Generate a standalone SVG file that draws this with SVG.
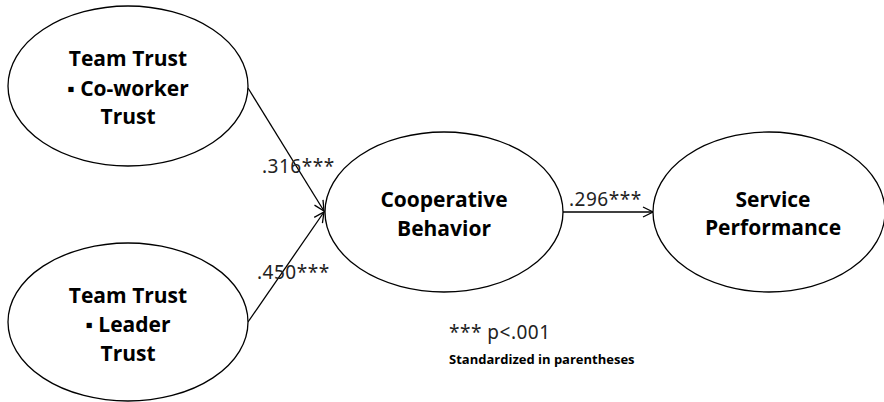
<svg xmlns="http://www.w3.org/2000/svg" width="884" height="402" viewBox="0 0 884 402">
<style>
.node{fill:#fff;stroke:#000;stroke-width:1.3}
.nt{font-family:"Open Sans","Noto Sans",sans-serif;font-weight:bold;font-size:21px;fill:#000;text-anchor:middle}
.lbl{font-family:"Noto Sans","Open Sans",sans-serif;font-size:19px;fill:#222;letter-spacing:0.5px}
.edge{stroke:#000;stroke-width:1.3;fill:none}
</style>
<defs>
<marker id="arr" viewBox="0 0 12 12" refX="11" refY="6" markerWidth="12" markerHeight="12" markerUnits="userSpaceOnUse" orient="auto">
<path d="M1,1 L11,6 L1,11" fill="none" stroke="#000" stroke-width="1.3"/>
</marker>
</defs>
<rect width="884" height="402" fill="#fff"/>
<g id="connectors">
<line class="edge" x1="248" y1="88" x2="324" y2="211" marker-end="url(#arr)"/>
<line class="edge" x1="248" y1="322" x2="324" y2="212" marker-end="url(#arr)"/>
<line class="edge" x1="563" y1="212" x2="653" y2="212" marker-end="url(#arr)"/>
<text class="lbl" x="262" y="173">.316***</text>
<text class="lbl" x="257" y="279">.450***</text>
<text class="lbl" x="569" y="206">.296***</text>
</g>
<g id="coworker">
<ellipse class="node" cx="128" cy="86" rx="120" ry="80"/>
<text class="nt" x="128" y="66">Team Trust</text>
<text class="nt" x="128" y="96">▪ Co-worker</text>
<text class="nt" x="128" y="124">Trust</text>
</g>
<g id="leader">
<ellipse class="node" cx="128" cy="322" rx="120" ry="79"/>
<text class="nt" x="128" y="303">Team Trust</text>
<text class="nt" x="128" y="332">▪ Leader</text>
<text class="nt" x="128" y="361">Trust</text>
</g>
<g id="cooperative">
<ellipse class="node" cx="444" cy="212" rx="119" ry="80"/>
<text class="nt" x="444" y="207">Cooperative</text>
<text class="nt" x="444" y="236">Behavior</text>
</g>
<g id="service">
<ellipse class="node" cx="769" cy="212" rx="116" ry="80"/>
<text class="nt" x="773" y="207">Service</text>
<text class="nt" x="773" y="235">Performance</text>
</g>
<g id="note">
<text class="lbl" x="449" y="339">*** p&lt;.001</text>
<text x="449" y="364" style="font-family:'Open Sans','Noto Sans',sans-serif;font-weight:bold;font-size:13px;fill:#000">Standardized in parentheses</text>
</g>
</svg>
